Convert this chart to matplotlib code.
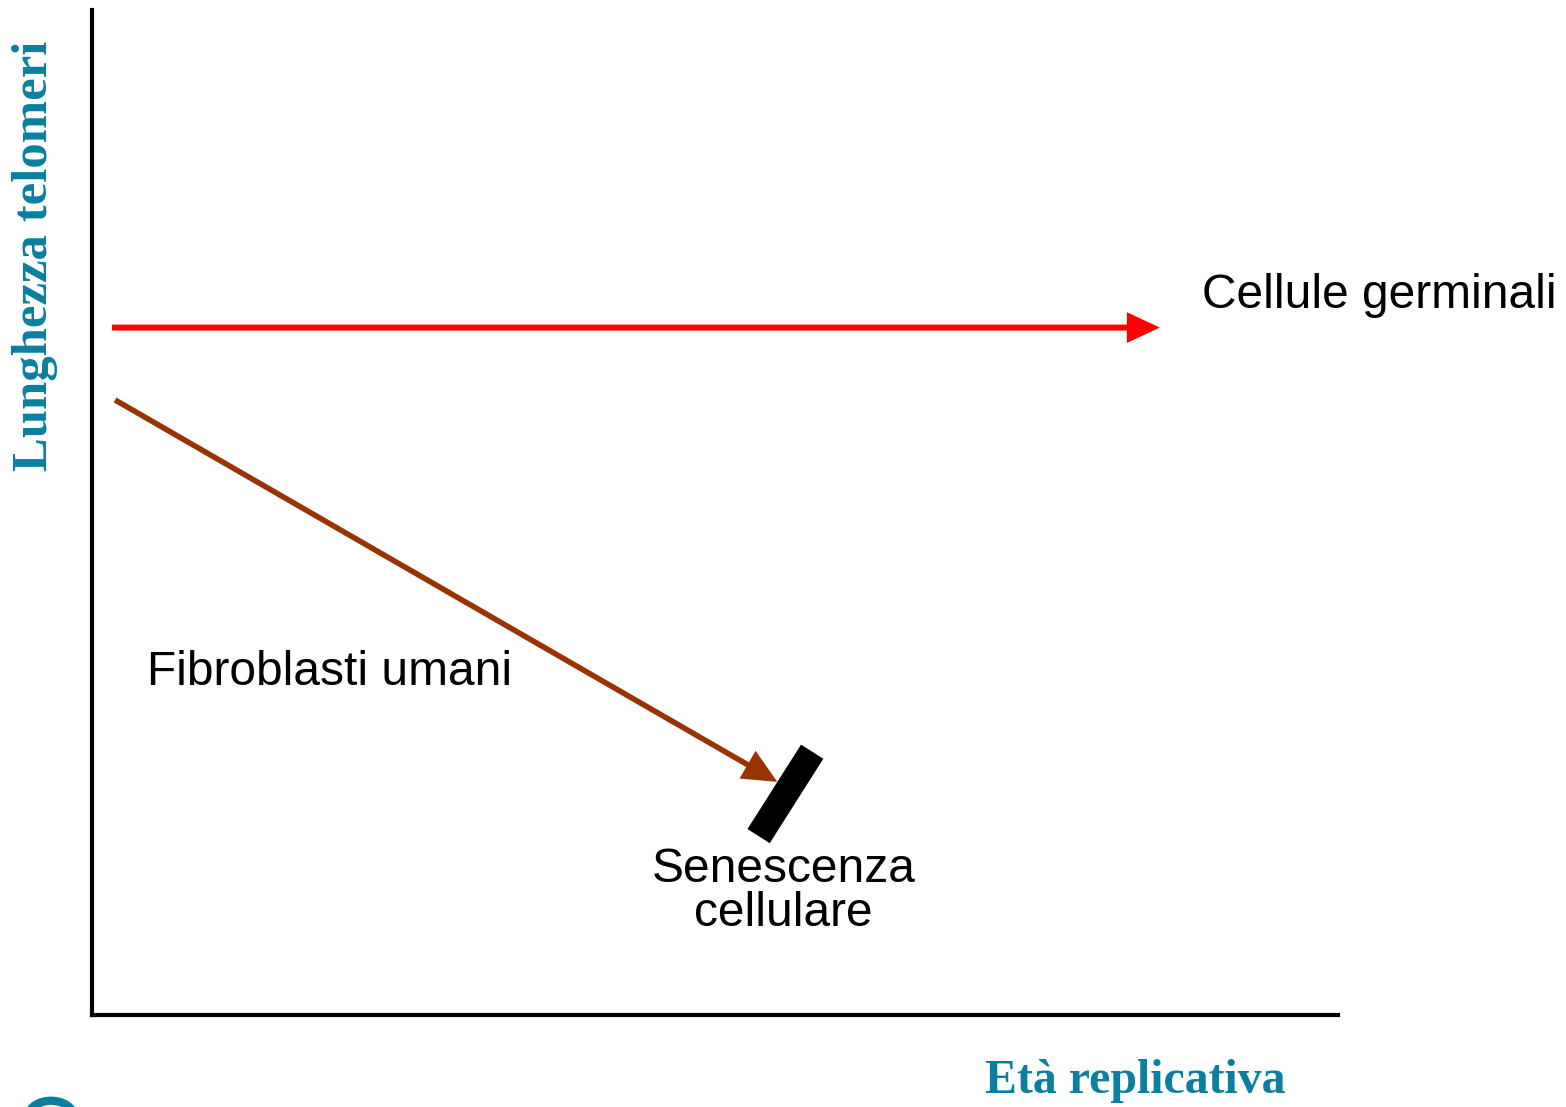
import matplotlib
matplotlib.use("Agg")
import matplotlib.pyplot as plt
from matplotlib.patches import Circle

TEAL = "#0a7fa0"
RED = "#ff0000"
BROWN = "#993300"

# schematic values (axis units 0..100)
germ_x = [1.6, 85.7]
germ_y = [68.4, 68.4]
fibro_x = [1.85, 55.0]
fibro_y = [61.2, 23.2]
block_x = [57.8, 53.5]
block_y = [26.2, 17.8]

W, H = 1566, 1107
fig = plt.figure(figsize=(W / 100, H / 100), dpi=100)
ax = fig.add_axes([92 / W, (H - 1015) / H, (1338 - 92) / W, (1015 - 10) / H])
ax.set_xlim(0, 100)
ax.set_ylim(0, 100)
for side in ("top", "right"):
    ax.spines[side].set_visible(False)
for side in ("left", "bottom"):
    ax.spines[side].set_linewidth(3.0)
ax.set_xticks([])
ax.set_yticks([])

head = "-|>,head_length=0.75,head_width=0.35"
ax.annotate("", xy=(germ_x[1], germ_y[1]), xytext=(germ_x[0], germ_y[0]),
            arrowprops=dict(arrowstyle=head, color=RED, lw=4.3, shrinkA=0,
                            shrinkB=0, mutation_scale=22, joinstyle="miter",
                            capstyle="butt"))
ax.annotate("", xy=(fibro_x[1], fibro_y[1]), xytext=(fibro_x[0], fibro_y[0]),
            arrowprops=dict(arrowstyle=head, color=BROWN, lw=4.0, shrinkA=0,
                            shrinkB=0, mutation_scale=24, joinstyle="miter",
                            capstyle="butt"))
ax.plot(block_x, block_y, color="black", lw=19, solid_capstyle="butt")

txt = dict(family="Liberation Sans", fontsize=34.5, color="black")
ax.text(89.1, 71.6, "Cellule germinali", ha="left", va="center", **txt)
ax.text(4.4, 34.1, "Fibroblasti umani", ha="left", va="center", **txt)
ax.text(55.5, 12.3, "Senescenza\ncellulare", ha="center", va="center",
        linespacing=0.97, **txt)

lab = dict(family="Liberation Serif", fontweight="bold", fontsize=34.5, color=TEAL)
fig.text(1135 / W, 1 - 1081 / H, "Età replicativa", ha="center", va="center", **lab)
lab["fontsize"] = 36.5
fig.text(35 / W, 1 - 256 / H, "Lunghezza telomeri", ha="center", va="center",
         rotation=90, **lab)

fig.patches.append(Circle((51 / W, 1 - 1117 / H), 23 / W, transform=fig.transFigure,
                          fill=False, edgecolor=TEAL, lw=6))

fig.savefig("out.png", dpi=100, facecolor="white")
